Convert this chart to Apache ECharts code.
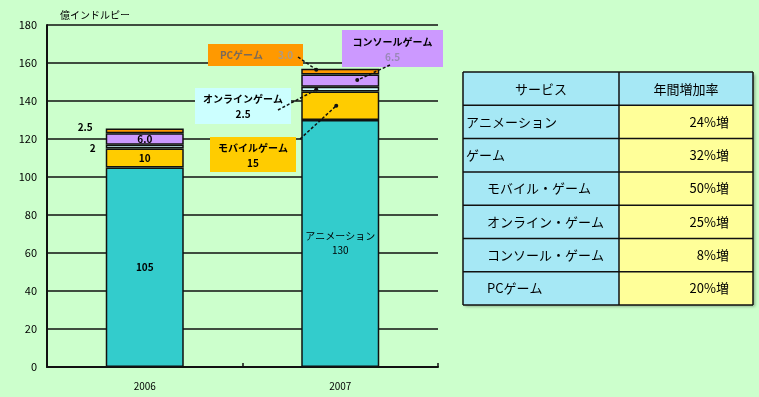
<!DOCTYPE html>
<html><head><meta charset="utf-8">
<script src="https://cdn.jsdelivr.net/npm/echarts@6/dist/echarts.min.js"></script>
<style>html,body{margin:0;padding:0;background:#ccffcc;}#c{width:759px;height:397px;}</style>
</head><body><div id="c"></div>
<script>
const categories = ['2006', '2007'];
const seriesNames = ['アニメーション', 'モバイルゲーム', 'オンラインゲーム', 'コンソールゲーム', 'PCゲーム'];
const animation = [105, 130];
const mobile = [10, 15];
const online = [2, 2.5];
const consoleGame = [6.0, 6.5];
const pcGame = [2.5, 3.0];
const unitLabel = '億インドルピー';
const tableHeader = ['サービス', '年間増加率'];
const tableServices = ['アニメーション', 'ゲーム', 'モバイル・ゲーム', 'オンライン・ゲーム', 'コンソール・ゲーム', 'PCゲーム'];
const tableIndent = [0, 0, 1, 1, 1, 1];
const tableRates = ['24%増', '32%増', '50%増', '25%増', '8%増', '20%増'];

const FONT = '"Noto Sans CJK JP", "DejaVu Sans", sans-serif';
const colors = ['#33cccc', '#ffcc00', '#ccffff', '#cc99ff', '#ff9900'];
const values = [animation, mobile, online, consoleGame, pcGame];

const chart = echarts.init(document.getElementById('c'));

const series = values.map((arr, si) => ({
  name: seriesNames[si],
  type: 'bar',
  stack: 'total',
  barWidth: 78,
  itemStyle: { color: colors[si], borderColor: '#111', borderWidth: 1.5 },
  data: arr.map((v, ci) => {
    const d = { value: v };
    let label = { show: ci === 0, position: 'inside', color: '#000', fontSize: 10, fontFamily: FONT, fontWeight: 'bold',
      formatter: (si === 3 ? v.toFixed(1) : String(v)) };
    if (ci === 0 && (si === 2 || si === 4)) {
      label.position = 'left';
      label.distance = si === 2 ? 10 : 13;
      label.offset = si === 4 ? [0, -4] : [0, 2];
      label.formatter = si === 4 ? v.toFixed(1) : String(v);
    }
    if (ci === 1 && si === 0) {
      label = { show: true, position: 'inside', color: '#000', fontSize: 10, fontFamily: FONT,
        lineHeight: 14, formatter: seriesNames[0] + '\n' + v };
    }
    d.label = label;
    return d;
  })
}));

chart.setOption({
  backgroundColor: '#ccffcc',
  animation: false,
  title: { text: unitLabel, left: 55, top: 5, textStyle: { fontSize: 10, fontWeight: 'normal', color: '#000', fontFamily: FONT } },
  grid: { left: 47, right: 321, top: 25, bottom: 30 },
  xAxis: {
    type: 'category', data: categories,
    axisLine: { lineStyle: { color: '#111', width: 2 } },
    axisTick: { show: true, inside: true, length: 4, lineStyle: { color: '#111', width: 1.5 } },
    axisLabel: { color: '#000', fontSize: 10, fontFamily: FONT, margin: 14 }
  },
  yAxis: {
    type: 'value', min: 0, max: 180, interval: 20,
    axisLine: { show: true, lineStyle: { color: '#111', width: 2 } },
    axisTick: { show: false },
    axisLabel: { color: '#000', fontSize: 11, fontFamily: FONT, margin: 10 },
    splitLine: { lineStyle: { color: '#111', width: 1.5 } }
  },
  series: series
});

function cum(ci, upto) { let s = 0; for (let i = 0; i <= upto; i++) s += values[i][ci]; return s; }
function px(ci, val) { return chart.convertToPixel({ gridIndex: 0 }, [ci, val]); }

const g = [];
// table
const tx0 = 463, tx1 = 619, tx2 = 753, ty0 = 72, rowH = 33.3;
const nRows = tableServices.length + 1;
g.push({ type: 'rect', shape: { x: tx0, y: ty0, width: tx2 - tx0, height: rowH * nRows },
  style: { fill: '#a6e8f5', shadowBlur: 3, shadowOffsetX: 2, shadowOffsetY: 2, shadowColor: 'rgba(0,0,0,0.35)' }, z: 10 });
g.push({ type: 'rect', shape: { x: tx1, y: ty0 + rowH, width: tx2 - tx1, height: rowH * (nRows - 1) },
  style: { fill: '#ffff99' }, z: 11 });
for (let r = 0; r <= nRows; r++) {
  g.push({ type: 'line', shape: { x1: tx0, y1: ty0 + r * rowH, x2: tx2, y2: ty0 + r * rowH }, style: { stroke: '#111', lineWidth: 1.5 }, z: 12 });
}
[tx0, tx1, tx2].forEach(x => g.push({ type: 'line', shape: { x1: x, y1: ty0, x2: x, y2: ty0 + rowH * nRows }, style: { stroke: '#111', lineWidth: 1.5 }, z: 12 }));
const tFont = { fontSize: 13, fontFamily: FONT, fill: '#000' };
g.push({ type: 'text', x: (tx0 + tx1) / 2, y: ty0 + rowH / 2, style: Object.assign({ text: tableHeader[0], align: 'center', verticalAlign: 'middle' }, tFont), z: 13 });
g.push({ type: 'text', x: (tx1 + tx2) / 2, y: ty0 + rowH / 2, style: Object.assign({ text: tableHeader[1], align: 'center', verticalAlign: 'middle' }, tFont), z: 13 });
tableServices.forEach((s, i) => {
  const cy = ty0 + rowH * (i + 1) + rowH / 2;
  g.push({ type: 'text', x: tx0 + 3 + tableIndent[i] * 21, y: cy, style: Object.assign({ text: s, align: 'left', verticalAlign: 'middle' }, tFont), z: 13 });
  g.push({ type: 'text', x: tx2 - 24, y: cy, style: Object.assign({ text: tableRates[i], align: 'right', verticalAlign: 'middle' }, tFont), z: 13 });
});

function box(x, y, w, h, fill, lines) {
  g.push({ type: 'rect', shape: { x: x, y: y, width: w, height: h }, style: { fill: fill }, z: 20 });
  lines.forEach(l => g.push({ type: 'text', x: x + w / 2 + (l.dx || 0), y: y + l.dy,
    style: { text: l.t, align: 'center', verticalAlign: 'middle', fontSize: 10, fontWeight: 'bold', fontFamily: FONT, fill: l.c || '#000' }, z: 21 }));
}
function leader(x1, y1, ci, val, dxFromCenter) {
  const p = px(ci, val);
  const x2 = p[0] + dxFromCenter, y2 = p[1];
  g.push({ type: 'line', shape: { x1: x1, y1: y1, x2: x2, y2: y2 }, style: { stroke: '#111', lineWidth: 1.5, lineDash: [3, 2] }, z: 22 });
  g.push({ type: 'circle', shape: { cx: x2, cy: y2, r: 2 }, style: { fill: '#111' }, z: 22 });
}
// PC
box(208, 44, 95, 22, '#ff9900', [{ t: 'PCゲーム', dy: 11, dx: -14, c: '#7a6a5a' }, { t: pcGame[1].toFixed(1), dy: 11, dx: 30, c: '#b09a80' }]);
leader(298, 57, 1, cum(1, 4) - 0.5, -24);
// Console
box(342, 30, 101, 37, '#cc99ff', [{ t: seriesNames[3], dy: 12 }, { t: consoleGame[1].toFixed(1), dy: 27, c: '#9a88b8' }]);
leader(390, 65, 1, cum(1, 3) - 3, 17);
// Online
box(195, 88, 96, 36, '#ccffff', [{ t: seriesNames[2], dy: 11 }, { t: online[1].toFixed(1), dy: 26 }]);
leader(278, 110, 1, cum(1, 1) + 1, -24);
// Mobile
box(210, 137, 86, 35, '#ffcc00', [{ t: seriesNames[1], dy: 11 }, { t: String(mobile[1]), dy: 26 }]);
leader(300, 139, 1, cum(1, 0) + mobile[1] / 2, -4);

chart.setOption({ graphic: g });
</script>
</body></html>
